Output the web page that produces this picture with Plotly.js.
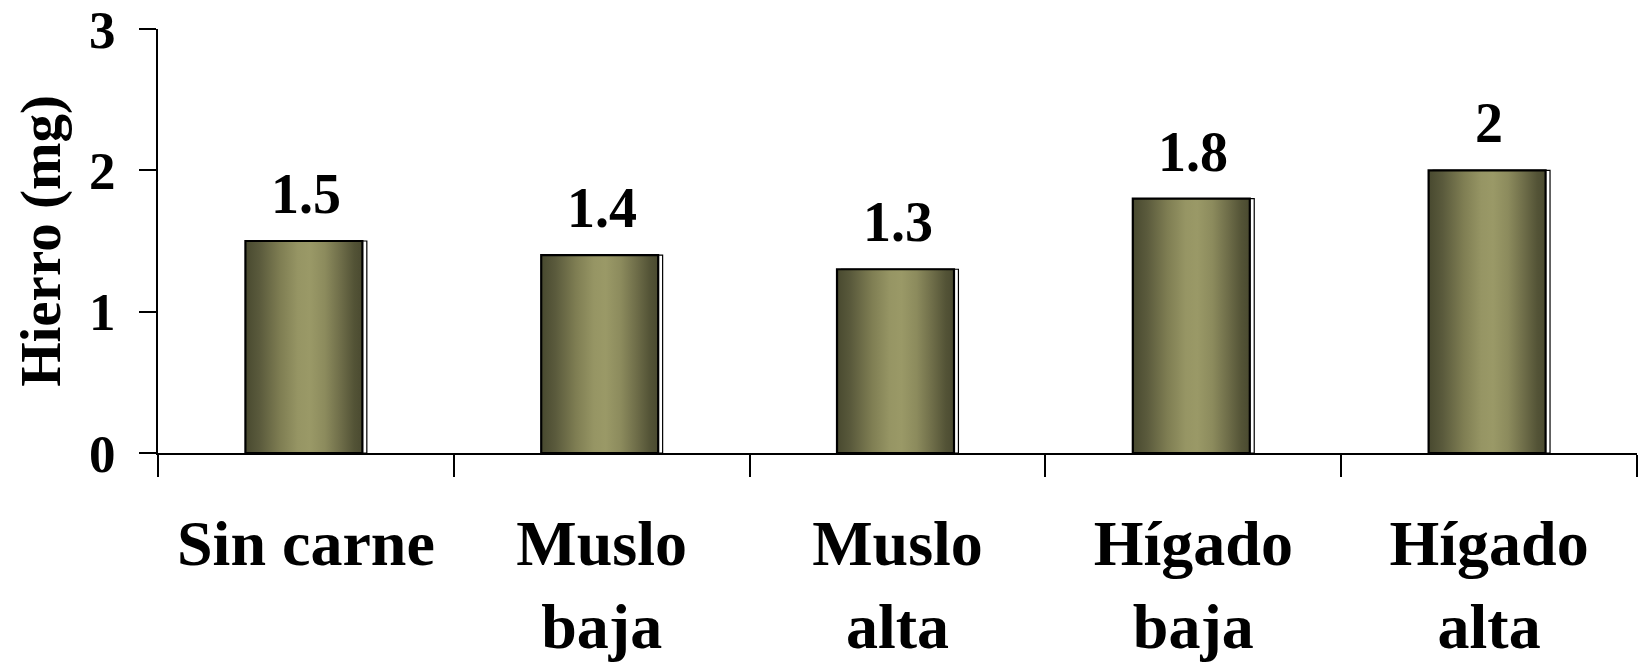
<!DOCTYPE html>
<html>
<head>
<meta charset="utf-8">
<script src="https://cdn.plot.ly/plotly-3.0.1.min.js"></script>
<style>
  html, body { margin: 0; padding: 0; background: #ffffff; }
  #chart { width: 1643px; height: 666px; }
</style>
</head>
<body>
<div id="chart"></div>
<script>
// Iron content (mg) per preparation
const categories = ['Sin carne', 'Muslo<br>baja', 'Muslo<br>alta', 'Hígado<br>baja', 'Hígado<br>alta'];
const hierro = [1.5, 1.4, 1.3, 1.8, 2];
const valueLabels = ['1.5', '1.4', '1.3', '1.8', '2'];
const yTickValues = [0, 1, 2, 3];
const yTickLabels = ['0', '1', '2', '3'];

const serif = '"Liberation Serif", "Times New Roman", Times, serif';
const BAR_W = 0.3955;

// white offset outline drawn behind each bar
const shadowTrace = {
  type: 'bar',
  x: categories,
  y: hierro,
  width: BAR_W,
  offset: -0.1895,
  marker: { color: '#ffffff', line: { color: '#000000', width: 1.2 } },
  hoverinfo: 'skip'
};

// main olive bars (fill replaced by a horizontal gradient after drawing)
const barTrace = {
  type: 'bar',
  x: categories,
  y: hierro,
  width: BAR_W,
  offset: -0.2045,
  marker: { color: '#8a8a5c', line: { color: '#000000', width: 2.2 } }
};

const labelAnnotations = categories.map((c, i) => ({
  x: c,
  y: hierro[i],
  xref: 'x',
  yref: 'y',
  text: valueLabels[i],
  showarrow: false,
  yanchor: 'bottom',
  yshift: 14,
  font: { family: serif, size: 56, color: '#000000', weight: 'bold' }
}));

const layout = {
  width: 1643,
  height: 666,
  margin: { l: 158, r: 6, t: 29, b: 213 },
  paper_bgcolor: '#ffffff',
  plot_bgcolor: '#ffffff',
  showlegend: false,
  barmode: 'overlay',
  font: { family: serif, color: '#000000', weight: 'bold' },
  xaxis: {
    type: 'category',
    showline: true,
    linecolor: '#000000',
    linewidth: 2,
    ticks: 'outside',
    tickson: 'boundaries',
    ticklen: 22,
    tickwidth: 2,
    tickcolor: '#000000',
    ticklabelstandoff: 33,
    showgrid: false,
    zeroline: false,
    tickfont: { family: serif, size: 64, color: '#000000', weight: 'bold' }
  },
  yaxis: {
    range: [0, 3],
    tickmode: 'array',
    tickvals: yTickValues,
    ticktext: yTickLabels,
    showline: true,
    linecolor: '#000000',
    linewidth: 2,
    ticks: 'outside',
    ticklen: 17,
    tickwidth: 2,
    tickcolor: '#000000',
    ticklabelstandoff: 13,
    showgrid: false,
    zeroline: false,
    tickfont: { family: serif, size: 53, color: '#000000', weight: 'bold' },
    title: {
      text: 'Hierro (mg)',
      standoff: 10,
      font: { family: serif, size: 57, color: '#000000', weight: 'bold' }
    }
  },
  annotations: labelAnnotations
};

function applyGradient(gd) {
  const svg = gd.querySelector('.main-svg');
  const ns = 'http://www.w3.org/2000/svg';
  let defs = svg.querySelector('defs');
  if (!defs) { defs = document.createElementNS(ns, 'defs'); svg.insertBefore(defs, svg.firstChild); }
  const grad = document.createElementNS(ns, 'linearGradient');
  grad.setAttribute('id', 'oliveShade');
  grad.setAttribute('x1', '0'); grad.setAttribute('y1', '0');
  grad.setAttribute('x2', '1'); grad.setAttribute('y2', '0');
  const stops = [
    [0, '#48492f'], [0.12, '#5a5a3c'], [0.3, '#7f7e53'], [0.45, '#969564'],
    [0.55, '#9a9967'], [0.68, '#8c8b5d'], [0.82, '#6d6c48'], [0.93, '#535336'], [1, '#4a4a30']
  ];
  stops.forEach(([o, c]) => {
    const s = document.createElementNS(ns, 'stop');
    s.setAttribute('offset', o);
    s.setAttribute('stop-color', c);
    grad.appendChild(s);
  });
  defs.appendChild(grad);
  const traces = gd.querySelectorAll('.barlayer .trace');
  const main = traces[traces.length - 1];
  main.querySelectorAll('path').forEach(p => { p.style.fill = 'url(#oliveShade)'; });
}

Plotly.newPlot('chart', [shadowTrace, barTrace], layout, { displayModeBar: false, staticPlot: true })
  .then(applyGradient);
</script>
</body>
</html>
